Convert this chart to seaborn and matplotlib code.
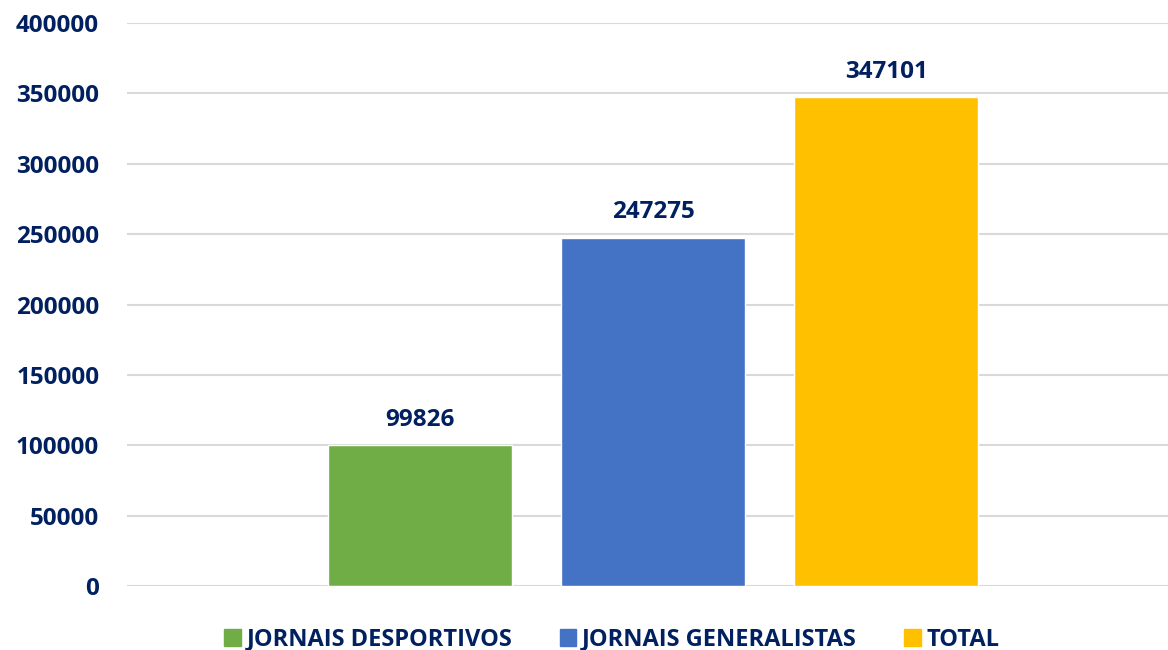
import matplotlib

matplotlib.use("Agg")
import matplotlib.pyplot as plt
import pandas as pd
import seaborn as sns

# data
series = ["JORNAIS DESPORTIVOS", "JORNAIS GENERALISTAS", "TOTAL"]
values = [99826, 247275, 347101]
colors = ["#70AD47", "#4472C4", "#FFC000"]
y_ticks = [0, 50000, 100000, 150000, 200000, 250000, 300000, 350000, 400000]

TEXT = "#002060"

sns.set_theme(style="white")
plt.rcParams["font.family"] = ["Open Sans", "DejaVu Sans"]
plt.rcParams["font.weight"] = "bold"

df = pd.DataFrame({"grupo": [""] * len(series), "serie": series, "valor": values})

fig = plt.figure(figsize=(11.68, 6.5), dpi=100)
ax = fig.add_axes([127 / 1168, 1 - 586 / 650, 1 - 127 / 1168, (586 - 23) / 650])

sns.barplot(
    data=df, x="grupo", y="valor", hue="serie", hue_order=series,
    palette=colors, gap=0.21, saturation=1, ax=ax, legend=False,
)

ax.set_xlim(-0.602, 0.589)
ax.set_ylim(0, 400000)
ax.set_yticks(y_ticks)
ax.set_yticklabels([str(t) for t in y_ticks])
ax.yaxis.grid(True, color="#D9D9D9", linewidth=1.5)
ax.set_axisbelow(True)
ax.set_xticks([])
ax.set_xlabel("")
ax.set_ylabel("")
for s in ax.spines.values():
    s.set_visible(False)
ax.tick_params(axis="y", length=0, pad=20, labelsize=17.5, labelcolor=TEXT)
for lbl in ax.get_yticklabels():
    lbl.set_fontweight("bold")

for cont in ax.containers:
    ax.bar_label(cont, fmt="%d", padding=10, fontsize=17.5, color=TEXT, fontweight="bold")

handles = [plt.Rectangle((0, 0), 1, 1, color=c) for c in colors]
fig.legend(
    handles, series, loc="lower center", bbox_to_anchor=(0.524, -0.035), ncol=3,
    frameon=False, handlelength=0.7, handleheight=0.7, handletextpad=0.25,
    columnspacing=2.0, prop={"size": 17, "weight": "bold"}, labelcolor=TEXT,
)

fig.savefig("out.png", dpi=100)
